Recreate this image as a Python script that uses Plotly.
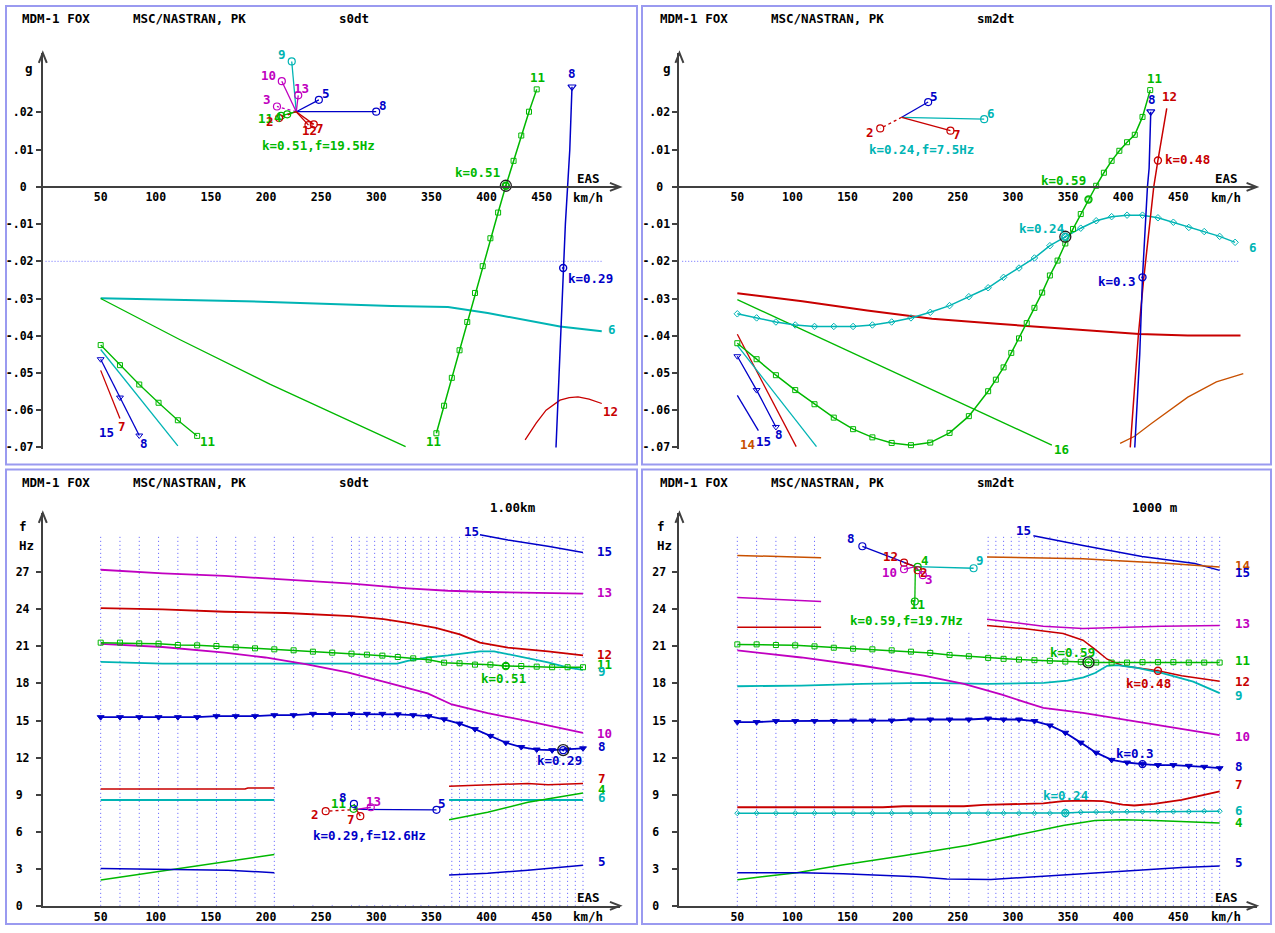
import plotly.graph_objects as go

W, H = 1275, 933
FONT = "DejaVu Sans Mono"
FS = 12.5
TFS = 11.5

GREEN = "#00b800"
BLUE = "#0000c8"
CYAN = "#00b4b4"
RED = "#c80000"
MAGENTA = "#c000c0"
ORANGE = "#c85000"
BLACK = "#000000"
AXC = "#404040"
GRIDC = "#5858ff"
BORDER = "#9a9af0"

# ---------------- common data ----------------
STATIONS = [50, 67.5, 85, 102.5, 120, 137.5, 155, 172.5, 190, 207.5, 225, 242.5, 260, 277.5,
            284.5, 291.5, 298.5, 305.5, 312.5, 319.5, 326.5, 333.5, 340.5, 347.5, 354.5, 361.5,
            368.5, 375.5, 382.5, 389.5, 396.5, 403.5, 410.5, 417.5, 424.5, 431.5, 438.5, 445.5,
            452.5, 459.5, 466.5, 473.5, 480.5, 487.5]
MARK_ST = [50, 67.5, 85, 102.5, 120, 137.5, 155, 172.5, 190, 207.5, 225, 242.5, 260, 277.5,
           291.5, 305.5, 319.5, 333.5, 347.5, 361.5, 375.5, 389.5, 403.5, 417.5, 431.5, 445.5,
           459.5, 473.5, 487.5]
XTICKS = [50, 100, 150, 200, 250, 300, 350, 400, 450]
G_TICKS = [-0.07, -0.06, -0.05, -0.04, -0.03, -0.02, -0.01, 0, 0.01, 0.02]
G_TEXT = ["-.07", "-.06", "-.05", "-.04", "-.03", "-.02", "-.01", "0\u2007", ".01", ".02"]
F_TICKS = [0, 3, 6, 9, 12, 15, 18, 21, 24, 27]
F_TEXT = ["0\u2007", "3\u2007", "6\u2007", "9\u2007", "12", "15", "18", "21", "24", "27"]
G_REF = -0.02
GRID_TOP = 30.1

# ---------------- panel 1 : s0dt, damping ----------------
P1_M11A_V = [354.5, 361.5, 368.5, 375.5, 382.5, 389.5, 396.5, 403.5, 410.5, 417.5, 424.5, 431.5, 438.5, 445.5]
P1_M11A_G = [-0.0662, -0.0588, -0.0513, -0.0439, -0.0363, -0.0285, -0.0213, -0.0138, -0.0069, 0.0003, 0.0070, 0.0138, 0.0202, 0.0262]
P1_M8A_V = [463, 465, 467, 469.5, 471.5, 473.5, 475.5, 477.5]
P1_M8A_G = [-0.070, -0.055, -0.040, -0.0218, -0.010, 0.0, 0.010, 0.0269]
P1_M6_V = [50, 180.9, 314, 365, 401, 466.6, 504.5]
P1_M6_G = [-0.0299, -0.0307, -0.0320, -0.0323, -0.0339, -0.0375, -0.0388]
P1_M16_V = [50, 121.6, 203.4, 326.6]
P1_M16_G = [-0.0300, -0.0410, -0.0530, -0.0698]
P1_M11B_V = [50, 67.5, 85, 102.5, 120, 137.5]
P1_M11B_G = [-0.0425, -0.0479, -0.0531, -0.0580, -0.0627, -0.0669]
P1_M17_V = [50, 120]
P1_M17_G = [-0.0437, -0.0696]
P1_M8B_V = [50, 67.5, 85]
P1_M8B_G = [-0.0463, -0.0566, -0.0668]
P1_M7_V = [50, 67.5]
P1_M7_G = [-0.0493, -0.0622]
P1_M12_V = [435, 445, 454, 466.6, 475, 483, 493, 504.5]
P1_M12_G = [-0.0680, -0.0635, -0.0600, -0.0573, -0.0566, -0.0564, -0.0570, -0.0582]
P1_REF_V = [0, 505.9]
P1_LABELS = [("11", 446, 0.0293, GREEN), ("8", 477.5, 0.0305, BLUE), ("11", 352, -0.0685, GREEN),
             ("8", 463, -0.0723, BLUE), ("16", 335.7, -0.0709, GREEN), ("6", 514, -0.0384, CYAN),
             ("17", 127.7, -0.0713, CYAN), ("11", 147.1, -0.0685, GREEN), ("8", 88.9, -0.0690, BLUE),
             ("7", 69.4, -0.0644, RED), ("15", 55.1, -0.0660, BLUE), ("12", 434, -0.0715, RED),
             ("12", 512, -0.0604, RED), ("k=0.51", 392, 0.0038, GREEN), ("k=0.29", 494, -0.0247, BLUE)]
P1_IN_C = (227.4, 0.0202)
P1_IN_MODE = ["9", "10", "13", "5", "8", "3", "11", "4", "2", "12", "7"]
P1_IN_V = [223.3, 214.3, 229.2, 247.9, 299.9, 209.9, 213.6, 219.2, 211.8, 238.5, 243.3]
P1_IN_G = [0.0337, 0.0284, 0.0246, 0.0234, 0.0202, 0.0216, 0.0191, 0.0195, 0.0185, 0.0166, 0.0168]
P1_IN_LV = [214.3, 202.0, 231.8, 254.1, 306.1, 200.6, 199.5, 210.5, 203.9, 239.7, 248.6]
P1_IN_LG = [0.0356, 0.0300, 0.0264, 0.0251, 0.0220, 0.0234, 0.0184, 0.0187, 0.0177, 0.0151, 0.0158]
P1_IN_COL = [CYAN, MAGENTA, MAGENTA, BLUE, BLUE, MAGENTA, GREEN, GREEN, RED, RED, RED]
P1_IN_DOT = ["3", "2"]
P1_IN_TEXT = ("k=0.51,f=19.5Hz", 247.9, 0.0111, GREEN)

# ---------------- panel 2 : sm2dt, damping ----------------
P2_M11_V = [50, 67.5, 85, 102.5, 120, 137.5, 155, 172.5, 190, 207.5, 225, 242.5, 260, 277.5,
            284.5, 291.5, 298.5, 305.5, 312.5, 319.5, 326.5, 333.5, 340.5, 347.5, 354.5, 361.5,
            368.5, 375.5, 382.5, 389.5, 396.5, 403.5, 410.5, 417.5, 424.5]
P2_M11_G = [-0.0420, -0.0463, -0.0506, -0.0546, -0.0584, -0.0620, -0.0651, -0.0673, -0.0688, -0.0694,
            -0.0687, -0.0661, -0.0616, -0.0549, -0.0518, -0.0485, -0.0446, -0.0407, -0.0366, -0.0325,
            -0.0284, -0.0238, -0.0198, -0.0152, -0.0113, -0.0073, -0.0034, 0.0003, 0.0038, 0.0070,
            0.0097, 0.0120, 0.0140, 0.0188, 0.0260]
P2_M6_V = [50, 67.5, 85, 102.5, 120, 137.5, 155, 172.5, 190, 207.5, 225, 242.5, 260, 277.5,
           291.5, 305.5, 319.5, 333.5, 347.5, 361.5, 375.5, 389.5, 403.5, 417.5, 431.5, 445.5,
           459.5, 473.5, 487.5, 501.5]
P2_M6_G = [-0.0341, -0.0352, -0.0363, -0.0371, -0.0375, -0.0375, -0.0375, -0.0371, -0.0363, -0.0352,
           -0.0337, -0.0319, -0.0295, -0.0271, -0.0243, -0.0218, -0.0191, -0.0158, -0.0134, -0.0111,
           -0.0091, -0.0080, -0.0076, -0.0076, -0.0083, -0.0095, -0.0109, -0.0120, -0.0133, -0.0149]
P2_M8A_V = [410.5, 412.5, 415, 417.5, 420, 422, 423.5, 425]
P2_M8A_G = [-0.070, -0.060, -0.045, -0.0243, -0.010, 0.0, 0.005, 0.0202]
P2_M12_V = [406.4, 409.9, 413.7, 418.5, 423.6, 427.7, 431.5, 439.5]
P2_M12_G = [-0.070, -0.055, -0.040, -0.025, -0.0109, 0.0, 0.0071, 0.0211]
P2_M18_V = [50, 108.9, 167.8, 226.6, 285.5, 329.8, 366.5, 414.5, 458.6, 506.4]
P2_M18_G = [-0.0286, -0.0307, -0.0332, -0.0354, -0.0368, -0.0377, -0.0386, -0.0395, -0.0399, -0.0399]
P2_M16_V = [50, 335.3]
P2_M16_G = [-0.0303, -0.0694]
P2_M7_V = [50, 103.4]
P2_M7_G = [-0.0396, -0.0698]
P2_M17_V = [50, 121.8]
P2_M17_G = [-0.0426, -0.0698]
P2_M8B_V = [50, 67.5, 85]
P2_M8B_G = [-0.0455, -0.0546, -0.0645]
P2_M15_V = [50, 69.1]
P2_M15_G = [-0.0560, -0.0655]
P2_M14_V = [397.2, 410.4, 425.6, 441.8, 458.6, 484.5, 508.9]
P2_M14_G = [-0.0689, -0.0670, -0.0636, -0.0600, -0.0565, -0.0524, -0.0502]
P2_REF_V = [0, 506]
P2_LABELS = [("11", 428.5, 0.0292, GREEN), ("8", 426.2, 0.0236, BLUE), ("12", 442.1, 0.0242, RED),
             ("k=0.59", 345.6, 0.0018, GREEN), ("k=0.24", 326.1, -0.0111, CYAN), ("k=0.3", 394.2, -0.0254, BLUE),
             ("k=0.48", 458.6, 0.0073, RED), ("6", 517.6, -0.0164, CYAN), ("18", 521.6, -0.0395, RED),
             ("16", 343.8, -0.0705, GREEN), ("7", 105.9, -0.0718, RED), ("17", 127.4, -0.0716, CYAN),
             ("8", 88, -0.0665, BLUE), ("15", 73.6, -0.0683, BLUE), ("14", 59.1, -0.0692, ORANGE),
             ("14", 521.6, -0.0480, ORANGE), ("14", 393.5, -0.0706, ORANGE), ("18", 427.4, -0.0723, RED)]
P2_IN_C = (199.1, 0.0187)
P2_IN_MODE = ["5", "6", "7", "2"]
P2_IN_V = [223.1, 273.9, 243.3, 179.6]
P2_IN_G = [0.0228, 0.0182, 0.0151, 0.0157]
P2_IN_LV = [228.6, 280.2, 248.8, 170.4]
P2_IN_LG = [0.0244, 0.0198, 0.0142, 0.0147]
P2_IN_COL = [BLUE, CYAN, RED, RED]
P2_IN_DOT = ["2"]
P2_IN_TEXT = ("k=0.24,f=7.5Hz", 216.8, 0.0100, CYAN)

# ---------------- panel 3 : s0dt, frequency ----------------
P3_M15_V = [394, 419.4, 455.7, 487.5]
P3_M15_F = [30.03, 29.6, 29.1, 28.6]
P3_M13_V = [50, 106.2, 162.5, 217.7, 277.5, 328.5, 365, 401, 437.5, 487.5]
P3_M13_F = [27.2, 26.9, 26.7, 26.4, 26.08, 25.7, 25.5, 25.4, 25.33, 25.27]
P3_M12_V = [50, 106.2, 162.5, 217.7, 277.5, 306.6, 328.5, 354, 375.7, 394, 419.4, 455.7, 487.5]
P3_M12_F = [24.1, 24.0, 23.8, 23.7, 23.45, 23.2, 22.9, 22.5, 21.97, 21.3, 20.9, 20.6, 20.27]
P3_M11_F = [21.30, 21.30, 21.24, 21.22, 21.11, 21.08, 21.03, 20.92, 20.84, 20.76, 20.68, 20.57, 20.49,
            20.41, 20.33, 20.25, 20.14, 20.03, 19.92, 19.68, 19.63, 19.52, 19.52, 19.41, 19.41, 19.36,
            19.31, 19.31, 19.31]
P3_M9_V = [50, 106.2, 180.9, 319, 328.5, 346.8, 365, 383, 394, 406.8, 423, 437.5, 455.7, 474, 487.5]
P3_M9_F = [19.74, 19.6, 19.6, 19.6, 19.82, 20.1, 20.27, 20.5, 20.6, 20.6, 20.3, 20.0, 19.7, 19.28, 19.1]
P3_M10_V = [50, 106.2, 162.5, 199.3, 237.1, 273.9, 310, 346.6, 368.5, 401, 437.5, 487.5]
P3_M10_F = [21.2, 20.95, 20.5, 20.1, 19.55, 18.9, 18.07, 17.2, 16.3, 15.6, 14.95, 14.0]
P3_M8_F = [15.27, 15.27, 15.27, 15.27, 15.27, 15.27, 15.35, 15.35, 15.35, 15.43, 15.43, 15.54, 15.54,
           15.54, 15.54, 15.54, 15.50, 15.43, 15.35, 15.10, 14.75, 14.30, 13.75, 13.20, 12.85, 12.65,
           12.60, 12.65, 12.75]
P3_M7_V = [[50, 180.9, 183.5, 207.5], [366, 401, 437.5, 455.7, 487.5]]
P3_M7_F = [[9.46, 9.46, 9.54, 9.54], [9.67, 9.8, 9.91, 9.8, 9.91]]
P3_M6_V = [[50, 207.5], [366, 487.5]]
P3_M6_F = [[8.57, 8.57], [8.57, 8.57]]
P3_M4_V = [[50, 207.5], [366, 401, 437.5, 487.5]]
P3_M4_F = [[2.09, 4.15], [6.96, 7.58, 8.38, 9.13]]
P3_M5_V = [[50, 132.5, 165.5, 207.5], [366, 401, 437.5, 487.5]]
P3_M5_F = [[3.03, 2.97, 2.89, 2.68], [2.49, 2.63, 2.89, 3.29]]
P3_BOX = (208.5, 365.5, 0.08, 14.2)
P3_LABELS = [("15", 386.6, 30.3, BLUE), ("15", 507, 28.69, BLUE), ("13", 507, 25.38, MAGENTA),
             ("12", 507, 20.35, RED), ("11", 507, 19.55, GREEN), ("9", 505, 19.0, CYAN),
             ("10", 507, 13.93, MAGENTA), ("8", 505, 12.86, BLUE), ("7", 505, 10.34, RED),
             ("4", 505, 9.4, GREEN), ("6", 505, 8.79, CYAN), ("5", 505, 3.56, BLUE),
             ("k=0.51", 415.7, 18.42, GREEN), ("k=0.29", 465.9, 11.79, BLUE)]
P3_IN_C = (282, 7.8)
P3_IN_MODE = ["5", "2", "11", "8", "13", "7"]
P3_IN_V = [354.6, 254.1, 279.4, 279.7, 295, 285.5]
P3_IN_F = [7.77, 7.66, 7.85, 8.25, 7.98, 7.26]
P3_IN_LV = [360, 244.8, 265.6, 270.1, 297.5, 276.8]
P3_IN_LF = [8.3, 7.39, 8.30, 8.79, 8.46, 6.96]
P3_IN_COL = [BLUE, RED, GREEN, BLUE, MAGENTA, RED]
P3_IN_DOT = ["2"]
P3_IN_TEXT = ("k=0.29,f=12.6Hz", 294, 5.71, BLUE)

# ---------------- panel 4 : sm2dt, frequency ----------------
P4_M15_V = [318.5, 363.5, 417, 465, 487.5]
P4_M15_F = [29.96, 29.16, 28.28, 27.71, 27.15]
P4_M14_V = [[50, 126], [276.5, 327.5, 363.5, 399.5, 435, 487.5]]
P4_M14_F = [[28.36, 28.17], [28.23, 28.17, 28.1, 27.9, 27.75, 27.43]]
P4_M13_V = [[50, 126], [276.5, 327.5, 363.5, 399.5, 435, 487.5]]
P4_M13_F = [[24.95, 24.63], [23.2, 22.63, 22.44, 22.55, 22.63, 22.68]]
P4_M12_V = [[50, 126], [276.5, 309.5, 345.5, 363.5, 374.5, 385.5, 399.5, 431.5, 453, 487.5]]
P4_M12_F = [[22.55, 22.55], [22.68, 22.44, 22.04, 21.5, 20.76, 19.96, 19.43, 19.03, 18.63, 18.17]]
P4_M11_F = [21.16, 21.16, 21.11, 21.08, 21.0, 20.89, 20.81, 20.76, 20.68, 20.57, 20.47, 20.31, 20.2,
            20.07, 19.99, 19.93, 19.88, 19.83, 19.77, 19.75, 19.69, 19.69, 19.69, 19.72, 19.72, 19.72,
            19.69, 19.69, 19.69]
P4_M9_V = [50, 108, 163.5, 219, 277.5, 328, 349.5, 364, 374.5, 385.5, 394.5, 410.5, 435.5, 463.5, 487.5]
P4_M9_F = [17.77, 17.83, 17.96, 18.04, 17.96, 18.04, 18.23, 18.49, 18.84, 19.43, 19.48, 19.29, 18.84, 18.15, 17.21]
P4_M10_V = [50, 108, 163.5, 219, 255.5, 290, 313, 327.5, 363.5, 399.5, 435, 487.5]
P4_M10_F = [20.68, 20.1, 19.43, 18.63, 17.96, 17.09, 16.42, 16.02, 15.62, 15.08, 14.55, 13.82]
P4_M8_F = [14.87, 14.87, 14.95, 14.95, 14.95, 14.95, 15.0, 15.0, 15.0, 15.08, 15.08, 15.08, 15.08,
           15.16, 15.08, 15.08, 14.95, 14.6, 14.01, 13.21, 12.4, 11.81, 11.6, 11.47, 11.39, 11.39,
           11.33, 11.25, 11.14]
P4_M7_V = [50, 182, 200.5, 255.5, 273.5, 309.5, 327.5, 345.5, 363.5, 381.5, 399.5, 410, 428, 453, 487.5]
P4_M7_F = [7.98, 7.98, 8.06, 8.06, 8.17, 8.25, 8.3, 8.47, 8.52, 8.47, 8.2, 8.12, 8.25, 8.57, 9.27]
P4_M6_F = [7.5, 7.5, 7.5, 7.5, 7.5, 7.5, 7.5, 7.5, 7.5, 7.5, 7.5, 7.5, 7.5, 7.5,
           7.5, 7.5, 7.5, 7.5, 7.52, 7.58, 7.6, 7.6, 7.62, 7.62, 7.62, 7.63, 7.63, 7.66, 7.66]
P4_M4_V = [50, 104, 145, 176.5, 200.5, 259.5, 309.5, 345.5, 374.5, 399.5, 428, 456.5, 487.5]
P4_M4_F = [2.12, 2.68, 3.3, 3.7, 4.05, 4.9, 5.84, 6.51, 6.91, 6.96, 6.91, 6.83, 6.7]
P4_M5_V = [50, 108, 146, 182.4, 212.7, 240, 280, 309.5, 345.5, 381.5, 417.5, 453, 487.5]
P4_M5_F = [2.68, 2.68, 2.6, 2.49, 2.36, 2.17, 2.14, 2.3, 2.49, 2.68, 2.89, 3.11, 3.22]
P4_BOX = (126.5, 276, 22.2, 31.8)
P4_LABELS = [("15", 309.5, 30.36, BLUE), ("14", 508, 27.56, ORANGE), ("15", 508, 26.95, BLUE),
             ("13", 508, 22.89, MAGENTA), ("11", 508, 19.83, GREEN), ("12", 508, 18.15, RED),
             ("9", 505, 17.03, CYAN), ("10", 508, 13.69, MAGENTA), ("8", 505, 11.25, BLUE),
             ("7", 505, 9.86, RED), ("6", 505, 7.71, CYAN), ("4", 505, 6.78, GREEN), ("5", 505, 3.48, BLUE),
             ("k=0.59", 354, 20.49, GREEN), ("k=0.48", 423, 17.96, RED), ("k=0.3", 411, 12.32, BLUE),
             ("k=0.24", 348, 8.97, CYAN)]
P4_IN_C = (211.5, 27.45)
P4_IN_MODE = ["8", "12", "10", "4", "2", "3", "9", "11"]
P4_IN_V = [163.4, 201.2, 201.2, 213.6, 213.6, 218.3, 264.3, 211]
P4_IN_F = [29.1, 27.77, 27.24, 27.43, 27.16, 26.76, 27.32, 24.63]
P4_IN_LV = [153.4, 189.2, 188.4, 220.3, 219.5, 223.9, 270, 213.6]
P4_IN_LF = [29.69, 28.28, 26.95, 27.91, 26.95, 26.44, 27.91, 24.36]
P4_IN_COL = [BLUE, RED, MAGENTA, GREEN, RED, MAGENTA, CYAN, GREEN]
P4_IN_DOT = []
P4_IN_TEXT = ("k=0.59,f=19.7Hz", 203.7, 23.08, GREEN)

# ---------------- geometry (pixels) ----------------
S = 1.1025                      # px per km/h
V0 = {1: 45.55, 2: 682.2, 3: 45.55, 4: 682.2}
XR = [-2.5, 521]
G0PX, GK, GR = 188.3, 3750.0, [-0.0705, 0.036]
F0PX, FK, FR = 912.7, 12.45, [0, 31.8]
AX = {1: ("x", "y"), 2: ("x2", "y2"), 3: ("x3", "y3"), 4: ("x4", "y4")}


def xdom(p):
    return [(V0[p] + S * XR[0]) / W, (V0[p] + S * XR[1]) / W]


def ydom(p):
    if p in (1, 2):
        return [1 - (G0PX - GK * GR[0]) / H, 1 - (G0PX - GK * GR[1]) / H]
    return [1 - (F0PX - FK * FR[0]) / H, 1 - (F0PX - FK * FR[1]) / H]


fig = go.Figure()


def tfont(color=BLACK, size=FS):
    return dict(family=FONT, size=size, color=color, weight="bold")


def curve(p, V, Y, color, width=1.5, dash=None, symbol=None, msize=5, mfill=None):
    xa, ya = AX[p]
    mode = "lines+markers" if symbol else "lines"
    fig.add_trace(go.Scatter(
        x=V, y=Y, xaxis=xa, yaxis=ya, mode=mode,
        line=dict(color=color, width=width, dash=dash),
        marker=dict(symbol=symbol or "circle", size=msize, color=mfill or color,
                    line=dict(color=color, width=1)),
        hoverinfo="skip", showlegend=False, cliponaxis=False))


def points(p, V, Y, color, symbol, size, lw=1.2, fill=None):
    xa, ya = AX[p]
    fig.add_trace(go.Scatter(
        x=V, y=Y, xaxis=xa, yaxis=ya, mode="markers",
        marker=dict(symbol=symbol, size=size, color=fill or color, line=dict(color=color, width=lw)),
        hoverinfo="skip", showlegend=False, cliponaxis=False))


def segs(p, VV, YY, color, width=1.5):
    for V, Y in zip(VV, YY):
        curve(p, V, Y, color, width)


def dtext(p, v, y, text, color):
    xa, ya = AX[p]
    fig.add_annotation(x=v, y=y, xref=xa, yref=ya, text=text, showarrow=False,
                       xanchor="center", yanchor="middle", font=tfont(color))


def ptext(xpx, ypx, text, color=BLACK, xanchor="left"):
    fig.add_annotation(x=xpx / W, y=1 - ypx / H, xref="paper", yref="paper", text=text,
                       showarrow=False, xanchor=xanchor, yanchor="middle", font=tfont(color))


def grid(p):
    xs, ys = [], []
    for s in STATIONS:
        xs += [s, s, None]
        ys += [0, GRID_TOP, None]
    xa, ya = AX[p]
    fig.add_trace(go.Scatter(x=xs, y=ys, xaxis=xa, yaxis=ya, mode="lines",
                             line=dict(color=GRIDC, width=1, dash="1px,3px"),
                             hoverinfo="skip", showlegend=False))


def blank(p, box):
    v0, v1, y0, y1 = box
    xa, ya = AX[p]
    fig.add_trace(go.Scatter(x=[v0, v1, v1, v0, v0], y=[y0, y0, y1, y1, y0], xaxis=xa, yaxis=ya,
                             mode="lines", fill="toself", fillcolor="white", line=dict(width=0),
                             hoverinfo="skip", showlegend=False))


def inset(p, c, V, Y, LV, LY, modes, cols, dotted, txt):
    for i, m in enumerate(modes):
        curve(p, [c[0], V[i]], [c[1], Y[i]], cols[i], 1.3, "dot" if m in dotted else None)
    for i, m in enumerate(modes):
        points(p, [V[i]], [Y[i]], cols[i], "circle-open", 7)
        dtext(p, LV[i], LY[i], m, cols[i])
    dtext(p, txt[1], txt[2], txt[0], txt[3])


def flutter(p, v, y, color, ring=True, inner="circle-open-dot"):
    points(p, [v], [y], color, inner, 7, 1.4)
    if ring:
        points(p, [v], [y], "#202020", "circle-open", 11, 1.3)


def chevron(tip_x, tip_y, pts):
    # open arrow head drawn in paper space; pts are pixel offsets from the tip
    d = ""
    for i, (dx, dy) in enumerate(pts):
        d += ("M" if i == 0 else " L") + " %.5f,%.5f" % ((tip_x + dx) / W, 1 - (tip_y + dy) / H)
    fig.add_shape(type="path", xref="paper", yref="paper", path=d,
                  line=dict(color=AXC, width=2), layer="above")


# ---------------- panel 1 ----------------
curve(1, P1_REF_V, [G_REF, G_REF], "#6a6aff", 1, "1px,2px")
curve(1, P1_M6_V, P1_M6_G, CYAN, 2)
curve(1, P1_M16_V, P1_M16_G, GREEN, 1.3)
curve(1, P1_M17_V, P1_M17_G, CYAN, 1.3)
curve(1, P1_M7_V, P1_M7_G, RED, 1.3)
curve(1, P1_M8B_V, P1_M8B_G, BLUE, 1.3, symbol="triangle-down-open", msize=6)
curve(1, P1_M11B_V, P1_M11B_G, GREEN, 1.3, symbol="square-open", msize=5)
curve(1, P1_M12_V, P1_M12_G, RED, 1.3)
curve(1, P1_M11A_V, P1_M11A_G, GREEN, 1.5, symbol="square-open", msize=5)
curve(1, P1_M8A_V, P1_M8A_G, BLUE, 1.5)
points(1, [P1_M8A_V[-1]], [P1_M8A_G[-1]], BLUE, "triangle-down-open", 7)
flutter(1, 417.5, 0.0003, GREEN)
flutter(1, 469.5, -0.0218, BLUE, ring=False)
inset(1, P1_IN_C, P1_IN_V, P1_IN_G, P1_IN_LV, P1_IN_LG, P1_IN_MODE, P1_IN_COL, P1_IN_DOT, P1_IN_TEXT)
for t, v, y, c in P1_LABELS:
    dtext(1, v, y, t, c)

# ---------------- panel 2 ----------------
curve(2, P2_REF_V, [G_REF, G_REF], "#6a6aff", 1, "1px,2px")
curve(2, P2_M18_V, P2_M18_G, RED, 2)
curve(2, P2_M16_V, P2_M16_G, GREEN, 1.3)
curve(2, P2_M7_V, P2_M7_G, RED, 1.3)
curve(2, P2_M17_V, P2_M17_G, CYAN, 1.3)
curve(2, P2_M15_V, P2_M15_G, BLUE, 1.3)
curve(2, P2_M8B_V, P2_M8B_G, BLUE, 1.3, symbol="triangle-down-open", msize=6)
curve(2, P2_M14_V, P2_M14_G, ORANGE, 1.3)
curve(2, P2_M6_V, P2_M6_G, CYAN, 1.5, symbol="diamond-open", msize=5)
curve(2, P2_M11_V, P2_M11_G, GREEN, 1.5, symbol="square-open", msize=5)
curve(2, P2_M12_V, P2_M12_G, RED, 1.5)
curve(2, P2_M8A_V, P2_M8A_G, BLUE, 1.5)
points(2, [P2_M8A_V[-1]], [P2_M8A_G[-1]], BLUE, "triangle-down-open", 7)
flutter(2, 347.5, -0.0134, CYAN)
flutter(2, 368.5, -0.0034, GREEN, ring=False, inner="circle-open")
flutter(2, 417.5, -0.0243, BLUE, ring=False)
flutter(2, 431.5, 0.0071, RED, ring=False, inner="circle-open")
inset(2, P2_IN_C, P2_IN_V, P2_IN_G, P2_IN_LV, P2_IN_LG, P2_IN_MODE, P2_IN_COL, P2_IN_DOT, P2_IN_TEXT)
for t, v, y, c in P2_LABELS:
    dtext(2, v, y, t, c)

# ---------------- panel 3 ----------------
grid(3)
blank(3, P3_BOX)
curve(3, P3_M15_V, P3_M15_F, BLUE)
curve(3, P3_M13_V, P3_M13_F, MAGENTA, 1.8)
curve(3, P3_M12_V, P3_M12_F, RED, 1.8)
curve(3, P3_M9_V, P3_M9_F, CYAN, 1.8)
curve(3, P3_M10_V, P3_M10_F, MAGENTA, 1.8)
curve(3, MARK_ST, P3_M11_F, GREEN, 1.5, symbol="square-open", msize=5)
curve(3, MARK_ST, P3_M8_F, BLUE, 1.8, symbol="triangle-down", msize=6)
segs(3, P3_M7_V, P3_M7_F, RED)
segs(3, P3_M6_V, P3_M6_F, CYAN, 2)
segs(3, P3_M4_V, P3_M4_F, GREEN)
segs(3, P3_M5_V, P3_M5_F, BLUE)
flutter(3, 417.5, 19.41, GREEN, ring=False)
flutter(3, 469.5, 12.6, BLUE)
inset(3, P3_IN_C, P3_IN_V, P3_IN_F, P3_IN_LV, P3_IN_LF, P3_IN_MODE, P3_IN_COL, P3_IN_DOT, P3_IN_TEXT)
for t, v, y, c in P3_LABELS:
    dtext(3, v, y, t, c)

# ---------------- panel 4 ----------------
grid(4)
blank(4, P4_BOX)
curve(4, P4_M15_V, P4_M15_F, BLUE)
segs(4, P4_M14_V, P4_M14_F, ORANGE)
segs(4, P4_M13_V, P4_M13_F, MAGENTA)
segs(4, P4_M12_V, P4_M12_F, RED)
curve(4, P4_M9_V, P4_M9_F, CYAN, 1.8)
curve(4, P4_M10_V, P4_M10_F, MAGENTA, 1.8)
curve(4, MARK_ST, P4_M11_F, GREEN, 1.5, symbol="square-open", msize=5)
curve(4, MARK_ST, P4_M8_F, BLUE, 1.8, symbol="triangle-down", msize=6)
curve(4, P4_M7_V, P4_M7_F, RED, 1.8)
curve(4, MARK_ST, P4_M6_F, CYAN, 1.5, symbol="diamond-open", msize=4)
curve(4, P4_M4_V, P4_M4_F, GREEN)
curve(4, P4_M5_V, P4_M5_F, BLUE)
flutter(4, 368.5, 19.7, GREEN)
flutter(4, 431.5, 19.03, RED, ring=False, inner="circle-open")
flutter(4, 417.5, 11.47, BLUE, ring=False)
flutter(4, 347.5, 7.52, CYAN, ring=False)
inset(4, P4_IN_C, P4_IN_V, P4_IN_F, P4_IN_LV, P4_IN_LF, P4_IN_MODE, P4_IN_COL, P4_IN_DOT, P4_IN_TEXT)
for t, v, y, c in P4_LABELS:
    dtext(4, v, y, t, c)

# ---------------- axes ----------------
layout_axes = {}
for p in (1, 2, 3, 4):
    xa, ya = AX[p]
    xk = "xaxis" if p == 1 else "xaxis%d" % p
    yk = "yaxis" if p == 1 else "yaxis%d" % p
    top = p in (1, 2)
    xc = dict(domain=xdom(p), range=XR, showgrid=False, zeroline=False, showline=True,
              linecolor=AXC, linewidth=2, tickmode="array", tickvals=XTICKS,
              ticktext=[str(v) for v in XTICKS], ticks="", tickfont=tfont(size=TFS),
              ticklabelstandoff=-1, fixedrange=True)
    if top:
        xc.update(anchor="free", position=1 - G0PX / H)
    else:
        xc.update(anchor=ya)
    yc = dict(domain=ydom(p), range=GR if top else FR, anchor=xa, showgrid=False, zeroline=False,
              showline=True, linecolor=AXC, linewidth=2, tickmode="array",
              tickvals=G_TICKS if top else F_TICKS, ticktext=G_TEXT if top else F_TEXT,
              ticks="outside", ticklen=5, tickwidth=2, tickcolor=AXC, tickfont=tfont(size=TFS),
              ticklabelstandoff=0 if top else 4, fixedrange=True)
    layout_axes[xk] = xc
    layout_axes[yk] = yc
    # arrow heads (paper space so they are not clipped by the plot area)
    x_left = V0[p] + S * XR[0]
    x_right = V0[p] + S * XR[1]
    y_axis0 = G0PX if top else F0PX
    y_top = (G0PX - GK * GR[1]) if top else (F0PX - FK * FR[1])
    chevron(x_right, y_axis0, [(-10, -4), (0, 0), (-10, 4)])
    chevron(x_left, y_top, [(-4, 10), (0, 0), (4, 10)])

# ---------------- panel frames & texts ----------------
FRAMES = [(6, 6, 637, 468), (642, 6, 1271, 468), (6, 473, 637, 931), (642, 473, 1271, 931)]
for x0, y0, x1, y1 in FRAMES:
    fig.add_shape(type="rect", xref="paper", yref="paper", x0=x0 / W, x1=x1 / W,
                  y0=1 - y1 / H, y1=1 - y0 / H, line=dict(color=BORDER, width=2), layer="below")

TITLES = [(0, 19, "s0dt"), (638, 19, "sm2dt"), (0, 485.7, "s0dt"), (638, 485.7, "sm2dt")]
for dx, ty, code in TITLES:
    ptext(20.3 + dx, ty, "MDM-1 FOX")
    ptext(131 + dx, ty, "MSC/NASTRAN, PK")
    ptext(336.6 + dx, ty, code)

ptext(488, 511.7, "1.00km")
ptext(1130, 511.7, "1000 m")

for dx in (0, 638):
    ptext(588 + dx, 180.3, "EAS", xanchor="center")
    ptext(588 + dx, 199.3, "km/h", xanchor="center")
    ptext(588 + dx, 904, "EAS", xanchor="center")
    ptext(588 + dx, 923.3, "km/h", xanchor="center")
    ptext(29 + dx, 69.5, "g", xanchor="center")
    ptext(23 + dx, 530, "f", xanchor="center")
    ptext(26.5 + dx, 550, "Hz", xanchor="center")

fig.update_layout(width=W, height=H, margin=dict(l=0, r=0, t=0, b=0), autosize=False,
                  paper_bgcolor="white", plot_bgcolor="white", showlegend=False,
                  font=dict(family=FONT, size=FS, color=BLACK), **layout_axes)

# page set-up: no body margin, figure pinned to the top-left corner
PAGE_FIX = (
    "var de=document.documentElement;de.style.margin='0';de.style.padding='0';de.style.overflow='hidden';"
    "document.body.style.margin='0';document.body.style.padding='0';document.body.style.overflow='hidden';"
    "var gd=document.getElementsByClassName('plotly-graph-div')[0];"
    "gd.style.position='absolute';gd.style.left='0px';gd.style.top='0px';"
)
fig.write_html("out.html", config={"displayModeBar": False}, post_script=PAGE_FIX)
